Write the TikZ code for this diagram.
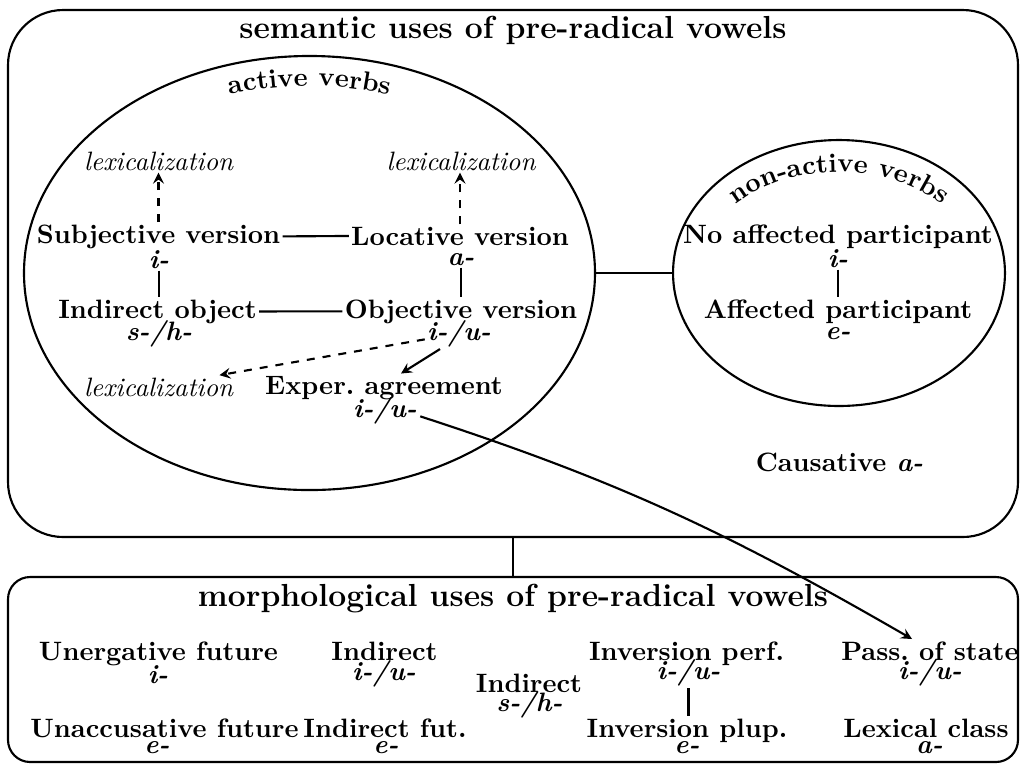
\documentclass[tikz,border=0pt]{standalone}
\usetikzlibrary{shapes.geometric,decorations.text,calc}
\begin{document}
\begin{tikzpicture}[x=0.376pt,y=0.376pt,thick,>=stealth,
  txt/.style={font=\bfseries,inner sep=0.5pt,anchor=base},
  vow/.style={font=\bfseries\itshape,inner sep=0.5pt,anchor=base},
  lex/.style={font=\itshape,inner sep=0.5pt,anchor=base},
  box/.style={draw,rectangle,inner sep=0pt,minimum width=379.76pt},
  oval/.style={draw,ellipse,inner sep=0pt}]
\useasboundingbox (0,0) rectangle (1021,-764);
% containers
\node[box,rounded corners=20.7pt,minimum height=198.15pt] (sem) at (513,-273.5) {};
\node[box,rounded corners=8.3pt,minimum height=69.56pt] (morph) at (513,-669.5) {};
\node[oval,minimum width=214.7pt,minimum height=163.2pt] (act) at (309.5,-273) {};
\node[oval,minimum width=124.8pt,minimum height=100pt] (nact) at (839,-273) {};
% titles
\node[txt,font=\large\bfseries] (semt) at (513,-38) {semantic uses of pre-radical vowels};
\node[txt,font=\large\bfseries] (morpht) at (513,-606) {morphological uses of pre-radical vowels};
\path[decorate,decoration={text along path,text={|\bfseries|active verbs},text align=center}]
  (309.5,-273) ++(160:260 and 187) arc[start angle=160,end angle=20,x radius=260,y radius=187];
\path[decorate,decoration={text along path,text={|\bfseries|non-active verbs},text align=center}]
  (839,-273) ++(165:140 and 101) arc[start angle=165,end angle=15,x radius=140,y radius=101];
% active verbs
\node[lex] (lexa) at (158.6,-170) {lexicalization};
\node[lex] (lexb) at (461,-170) {lexicalization};
\node[txt] (sv) at (158.5,-243) {Subjective version};
\node[vow] (svv) at (159,-268) {i-};
\node[txt] (lv) at (460,-245) {Locative version};
\node[vow] (lvv) at (461,-265) {a-};
\node[txt] (io) at (157.5,-318) {Indirect object};
\node[vow] (iov) at (159,-340) {s-/h-};
\node[txt] (ov) at (461,-318) {Objective version};
\node[vow] (ovv) at (459,-340) {i-/u-};
\node[lex] (lexc) at (158.6,-396) {lexicalization};
\node[txt] (ex) at (384,-394) {Exper.\ agreement};
\node[vow] (exv) at (385,-417) {i-/u-};
% non-active verbs
\node[txt] (nap) at (838,-243) {No affected participant};
\node[vow] (napv) at (838,-267) {i-};
\node[txt] (ap) at (838,-318) {Affected participant};
\node[vow] (apv) at (838,-339) {e-};
\node[txt] (caus) at (839.5,-471.7) {Causative \textit{a-}};
% morphological
\node[txt] (ugf) at (158.5,-660) {Unergative future};
\node[vow] (ugfv) at (158,-683) {i-};
\node[txt] (uaf) at (164.5,-737) {Unaccusative future};
\node[vow] (uafv) at (157,-753) {e-};
\node[txt] (ind) at (384.5,-660) {Indirect};
\node[vow] (indv) at (384,-680) {i-/u-};
\node[txt] (indf) at (385,-737) {Indirect fut.};
\node[vow] (indfv) at (386,-753) {e-};
\node[txt] (indb) at (529,-692) {Indirect};
\node[vow] (indbv) at (529.5,-711) {s-/h-};
\node[txt] (invp) at (686.5,-660) {Inversion perf.};
\node[vow] (invpv) at (688.5,-679) {i-/u-};
\node[txt] (invq) at (687,-737) {Inversion plup.};
\node[vow] (invqv) at (687,-753) {e-};
\node[txt] (pass) at (930,-660) {Pass.\ of state};
\node[vow] (passv) at (930,-679) {i-/u-};
\node[txt] (lexcl) at (926,-737) {Lexical class};
\node[vow] (lexclv) at (929.5,-753) {a-};
% connectors
\draw[dashed,->] (sv.north) -- (sv.north |- lexa.south);
\draw[dashed,->] (lv.north) -- (lv.north |- lexb.south);
\draw (sv.east) -- (lv.west);
\draw (svv.south) -- (svv.south |- io.north);
\draw (lvv.south) -- (lvv.south |- ov.north);
\draw (io.east) -- (ov.west);
\draw[dashed,->] ($(ovv.west)+(0,-6)$) -- ($(lexc.north east)+(-16,0)$);
\draw[->] ($(ovv.south)+(-19,0)$) -- ($(ex.north)+(17,0)$);
\draw[->] ($(exv.east)+(1,-6)$) to[out=-18,in=150] ($(pass.north)+(-18,0)$);
\draw (act.east) -- (nact.west);
\draw (napv.south) -- (napv.south |- ap.north);
\draw (sem.south) -- (morph.north);
\draw (invpv.south) -- (invpv.south |- invq.north);
\end{tikzpicture}
\end{document}
